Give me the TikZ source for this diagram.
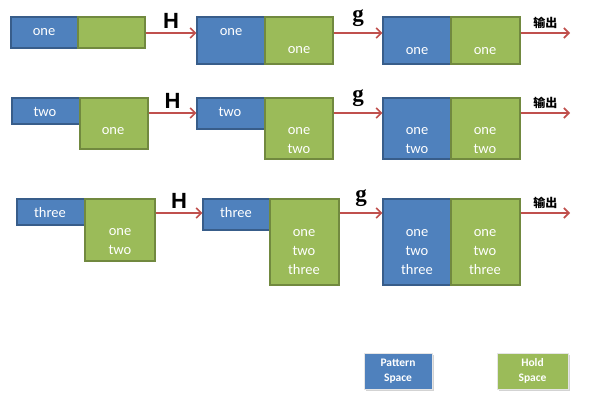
\documentclass[tikz,border=0pt]{standalone}
\usepackage{fontspec}
\setmainfont{Carlito}
\newfontfamily\hfont{Liberation Sans}
\newfontfamily\gfont{Liberation Serif}
\newfontfamily\cjk{Noto Sans CJK SC}
\usepackage{tikz}
\usetikzlibrary{arrows.meta,positioning,fit,shadows}
\definecolor{pblue}{HTML}{4F81BD}
\definecolor{pblueline}{HTML}{385D8A}
\definecolor{hgreen}{HTML}{9BBB59}
\definecolor{hgreenline}{HTML}{71893F}
\definecolor{flowred}{HTML}{C0504D}

\begin{document}
\begin{tikzpicture}[x=1pt, y=-1pt, >={Straight Barb[length=5pt,width=10pt]},
    pbox/.style={draw=pblueline, fill=pblue, line width=1.3pt, inner sep=0pt},
    hbox/.style={draw=hgreenline, fill=hgreen, line width=1.3pt, inner sep=0pt},
    txt/.style={text=white, align=center, inner sep=0pt, font=\fontsize{14.5}{19}\selectfont},
    flow/.style={->, draw=flowred, line width=1.6pt},
    opH/.style={above=4pt, inner sep=0pt, font=\hfont\bfseries\fontsize{22}{22}\selectfont},
    opg/.style={above=6pt, inner sep=0pt, font=\gfont\bfseries\fontsize{23}{23}\selectfont},
    outlbl/.style={above=4pt, inner sep=0pt, font=\cjk\bfseries\fontsize{12}{12}\selectfont},
    legend/.style={draw=gray!20, line width=1pt, inner sep=0pt, text=white, align=center,
        minimum height=36pt, font=\bfseries\fontsize{11.5}{15}\selectfont,
        drop shadow={opacity=0.35, shadow xshift=1.5pt, shadow yshift=-2pt}}
]
    \useasboundingbox (0,0) rectangle (592,404);

    % Row 1: one
    \node[pbox, fit={(11,17) (78,48)}] (p1a) {};
    \node[hbox, fit={(78,17) (145,48)}] (h1a) {};
    \node[txt] (t1a) at (44,32) {one};
    \node[pbox, fit={(197,17) (265,64)}] (p1b) {};
    \node[hbox, fit={(265,17) (333,64)}] (h1b) {};
    \node[txt] (t1b) at (231,32) {one};
    \node[txt] (s1b) at (299,50) {one};
    \node[pbox, fit={(383,17) (451,64)}] (p1c) {};
    \node[hbox, fit={(451,17) (520,64)}] (h1c) {};
    \node[txt] (t1c) at (417,51) {one};
    \node[txt] (s1c) at (485,51) {one};
    \coordinate (o1) at (570,33);
    \draw[flow] (h1a.east |- o1) -- (p1b.west |- o1) node[midway, opH] (H1) {H};
    \draw[flow] (h1b.east |- o1) -- (p1c.west |- o1) node[midway, opg] (g1) {g};
    \draw[flow] (h1c.east |- o1) -- (o1) node[midway, outlbl] (out1) {输出};

    % Row 2: two
    \node[pbox, fit={(12,98) (80,124)}] (p2a) {};
    \node[hbox, fit={(80,98) (148,149)}] (h2a) {};
    \node[txt] (t2a) at (45,112) {two};
    \node[txt] (s2a) at (113,131) {one};
    \node[pbox, fit={(197,98) (265,129)}] (p2b) {};
    \node[hbox, fit={(265,98) (333,159)}] (h2b) {};
    \node[txt] (t2b) at (230,112) {two};
    \node[txt] (s2b) at (299,140.5) {one\\two};
    \node[pbox, fit={(383,98) (451,159)}] (p2c) {};
    \node[hbox, fit={(451,98) (520,159)}] (h2c) {};
    \node[txt] (t2c) at (417,140.5) {one\\two};
    \node[txt] (s2c) at (485,140.5) {one\\two};
    \coordinate (o2) at (570,113);
    \draw[flow] (h2a.east |- o2) -- (p2b.west |- o2) node[midway, opH] (H2) {H};
    \draw[flow] (h2b.east |- o2) -- (p2c.west |- o2) node[midway, opg] (g2) {g};
    \draw[flow] (h2c.east |- o2) -- (o2) node[midway, outlbl] (out2) {输出};

    % Row 3: three
    \node[pbox, fit={(17,199) (85,225)}] (p3a) {};
    \node[hbox, fit={(85,199) (155,261)}] (h3a) {};
    \node[txt] (t3a) at (50,213) {three};
    \node[txt] (s3a) at (120,241.5) {one\\two};
    \node[pbox, fit={(203,199) (270,230)}] (p3b) {};
    \node[hbox, fit={(270,199) (339,285)}] (h3b) {};
    \node[txt] (t3b) at (236,213) {three};
    \node[txt] (s3b) at (304,252) {one\\two\\three};
    \node[pbox, fit={(383,199) (451,285)}] (p3c) {};
    \node[hbox, fit={(451,199) (520,285)}] (h3c) {};
    \node[txt] (t3c) at (417,252) {one\\two\\three};
    \node[txt] (s3c) at (485,252) {one\\two\\three};
    \coordinate (o3) at (570,213);
    \draw[flow] (h3a.east |- o3) -- (p3b.west |- o3) node[midway, opH] (H3) {H};
    \draw[flow] (h3b.east |- o3) -- (p3c.west |- o3) node[midway, opg] (g3) {g};
    \draw[flow] (h3c.east |- o3) -- (o3) node[midway, outlbl] (out3) {输出};

    % Legend
    \node[legend, fill=pblue, minimum width=68pt] (lp) at (398,371) {Pattern\\Space};
    \node[legend, fill=hgreen, minimum width=71pt] (lh) at (532.5,371) {Hold\\Space};
\end{tikzpicture}
\end{document}
